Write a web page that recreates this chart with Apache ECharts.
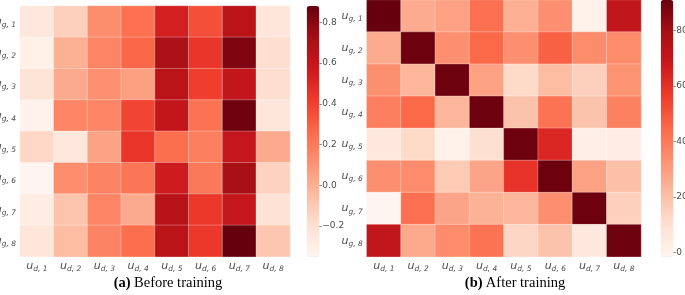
<!DOCTYPE html>
<html><head><meta charset="utf-8">
<script src="https://cdn.jsdelivr.net/npm/echarts@6/dist/echarts.min.js"></script>
<style>html,body{margin:0;padding:0;background:#fff}#c{width:685px;height:295px}</style>
</head><body><div id="c"></div>
<script>
// Row / column labels (subscripts)
const rowLabels = ['g, 1','g, 2','g, 3','g, 4','g, 5','g, 6','g, 7','g, 8'];
const colLabels = ['d, 1','d, 2','d, 3','d, 4','d, 5','d, 6','d, 7','d, 8'];
// (a) Before training
const before = [
  [-0.25,-0.13, 0.13, 0.24, 0.54, 0.35, 0.64,-0.24],
  [-0.31, 0.00, 0.16, 0.27, 0.70, 0.44, 0.82,-0.19],
  [-0.22, 0.02, 0.12, 0.06, 0.64, 0.41, 0.61,-0.19],
  [-0.33, 0.16, 0.16, 0.39, 0.61, 0.23, 0.86,-0.24],
  [-0.16,-0.25, 0.05, 0.45, 0.25, 0.19, 0.60, 0.02],
  [-0.35, 0.13, 0.17, 0.22, 0.56, 0.21, 0.71,-0.14],
  [-0.29,-0.08, 0.16, 0.02, 0.65, 0.43, 0.60,-0.21],
  [-0.24,-0.05, 0.17, 0.25, 0.64, 0.43, 0.88,-0.09]
];
// (b) After training
const after = [
  [91.1, 26, 29, 43, 25, 34, 0.3, 71],
  [26, 90, 34, 45, 34, 47, 35, 35],
  [34, 23, 90, 29, 12, 21, 15, 33],
  [39, 45, 23, 90, 19, 42, 19, 38],
  [6, 12, 0.3, 10, 90, 63, 2, 3],
  [34, 35, 17, 28, 59, 90, 29, 20],
  [-1.6, 43, 28, 24, 23, 34, 90, 15],
  [71, 27, 35, 42, 13, 19, 6, 90]
];
const beforeTicks = [-0.2, 0.0, 0.2, 0.4, 0.6, 0.8];
const afterTicks = [0, 20, 40, 60, 80];
const beforeRange = [-0.35, 0.88];
const afterRange = [-1.6, 91.1];
const captions = [['(a)', 'Before training'], ['(b)', 'After training']];

const reds = ['#fff5f0','#fee0d2','#fcbba1','#fc9272','#fb6a4a','#ef3b2c','#cb181d','#a50f15','#67000d'];

function toData(m) {
  const out = [];
  m.forEach((row, r) => row.forEach((v, c) => out.push([c, r, v])));
  return out;
}
const lblColor = '#4d4d4d';
const subRich = {
  u: {fontFamily: 'DejaVu Sans', fontStyle: 'italic', fontSize: 11, color: lblColor},
  s: {fontFamily: 'DejaVu Sans', fontStyle: 'italic', fontSize: 7.5, color: lblColor, padding: [6, 0, 0, 0]}
};
const fmt = v => '{u|u}{s|' + v + '}';

const grids = [
  {left: 20, top: 6, width: 270, height: 250.7},
  {left: 366.7, top: 0, width: 274.3, height: 256.7},
  {left: 306.7, top: 6, width: 12.6, height: 250.7},
  {left: 660.7, top: 0, width: 12.6, height: 256.7}
].map(g => Object.assign(g, {outerBoundsMode: 'none', containLabel: false}));

const xAxes = [], yAxes = [];
[0, 1].forEach(i => {
  xAxes.push({gridIndex: i, type: 'category', data: colLabels, axisLine: {show: false}, axisTick: {show: false},
    axisLabel: {formatter: fmt, rich: subRich, margin: 2, interval: 0, hideOverlap: false}, splitLine: {show: false}});
  yAxes.push({gridIndex: i, type: 'category', data: rowLabels, inverse: true, axisLine: {show: false}, axisTick: {show: false},
    axisLabel: {formatter: fmt, rich: subRich, margin: 4, interval: 0, hideOverlap: false}, splitLine: {show: false}});
});
const cbFmt0 = v => (v < 0 ? '\u2212' : '') + Math.abs(v).toFixed(1);
const cbFmt1 = v => String(Math.round(v));
[[2, beforeRange, beforeTicks, cbFmt0], [3, afterRange, afterTicks, cbFmt1]].forEach(([g, rng, ticks, f]) => {
  xAxes.push({gridIndex: g, type: 'category', data: [''], show: false});
  yAxes.push({gridIndex: g, type: 'value', min: rng[0], max: rng[1], position: 'right',
    axisLine: {show: false}, splitLine: {show: false},
    axisTick: {show: true, length: 2.5, inside: false, customValues: ticks, lineStyle: {color: '#666', width: 0.8}},
    axisLabel: {show: true, customValues: ticks, formatter: f, fontSize: 9, color: lblColor, fontFamily: 'DejaVu Sans', margin: 3, hideOverlap: false}});
});

const option = {
  animation: false,
  grid: grids,
  xAxis: xAxes,
  yAxis: yAxes,
  visualMap: [
    {type: 'continuous', seriesIndex: 0, min: beforeRange[0], max: beforeRange[1], calculable: false, hoverLink: false,
     orient: 'vertical', left: 306.7, top: 6, itemWidth: 12.6, itemHeight: 250.7, padding: 0, text: null, showLabel: false,
     inRange: {color: reds}},
    {type: 'continuous', seriesIndex: 1, min: afterRange[0], max: afterRange[1], calculable: false, hoverLink: false,
     orient: 'vertical', left: 660.7, top: 0, itemWidth: 12.6, itemHeight: 256.7, padding: 0, text: null, showLabel: false,
     inRange: {color: reds}}
  ],
  series: [
    {type: 'heatmap', xAxisIndex: 0, yAxisIndex: 0, data: toData(before),
     itemStyle: {borderColor: 'rgba(255,255,255,0.5)', borderWidth: 0.6}},
    {type: 'heatmap', xAxisIndex: 1, yAxisIndex: 1, data: toData(after),
     itemStyle: {borderColor: 'rgba(255,255,255,0.5)', borderWidth: 0.6}}
  ],
  graphic: captions.map((c, i) => ({
    type: 'text', x: i === 0 ? 168 : 515, y: 283,
    style: {text: '{b|' + c[0] + '} {r|' + c[1] + '}', align: 'center', verticalAlign: 'middle',
      rich: {b: {fontFamily: 'Liberation Serif', fontWeight: 'bold', fontSize: 14.5, fill: '#000'},
             r: {fontFamily: 'Liberation Serif', fontSize: 14.5, fill: '#000'}}}
  }))
};
const chart = echarts.init(document.getElementById('c'), null, {renderer: 'canvas'});
chart.setOption(option);
</script></body></html>
